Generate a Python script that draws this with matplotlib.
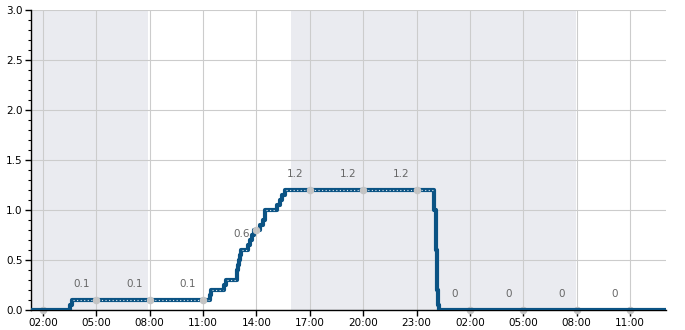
import numpy as np
import matplotlib.pyplot as plt
from matplotlib.ticker import MultipleLocator, FuncFormatter

# 時刻（day1 0:00 からの時間）と値のステップデータ
step_hours = [1.33, 3.50, 3.65, 11.38, 11.45, 12.18, 12.30, 12.88, 12.93, 12.97, 13.02,
              13.07, 13.12, 13.55, 13.65, 13.75, 13.85, 14.19, 14.38, 14.47, 15.13,
              15.31, 15.46, 15.60, 23.99, 24.07, 24.13, 24.22, 24.28, 37.0]
step_values = [0.0, 0.05, 0.1, 0.15, 0.2, 0.25, 0.3, 0.35, 0.4, 0.45, 0.5,
               0.55, 0.6, 0.65, 0.7, 0.75, 0.8, 0.85, 0.9, 1.0, 1.05,
               1.1, 1.15, 1.2, 1.0, 0.6, 0.2, 0.05, 0.0, 0.0]

# マーカー（3時間ごと）とラベル
marker_hours = [2, 5, 8, 11, 14, 17, 20, 23, 26, 29, 32, 35]
marker_values = [0, 0.1, 0.1, 0.1, 0.8, 1.2, 1.2, 1.2, 0, 0, 0, 0]
label_values = [None, 0.1, 0.1, 0.1, 0.6, 1.2, 1.2, 1.2, 0, 0, 0, 0]
label_texts = ["", "0.1", "0.1", "0.1", "0.6", "1.2", "1.2", "1.2", "0", "0", "0", "0"]

# 夜間の網掛け
night_spans = [(1.33, 7.9), (15.97, 31.95)]
x_min, x_max = 1.33, 37.0

fig = plt.figure(figsize=(6.85, 3.30), dpi=100)
ax = fig.add_axes([31 / 685, 20 / 330, 634.7 / 685, 300 / 330])

for s, e in night_spans:
    ax.axvspan(s, e, color='#eaebf0', lw=0, zorder=0)

# 線は軸でクリップ（0の所は下半分が切れる）
ax.plot(step_hours, step_values, drawstyle='steps-post', color='#0b5384', lw=3,
        zorder=3, solid_capstyle='butt')
# 水平部分だけ白い点線
for i in range(len(step_hours) - 1):
    if step_hours[i + 1] - step_hours[i] > 0.3 and step_values[i] > 0:
        ax.hlines(step_values[i], step_hours[i] + 0.05, step_hours[i + 1] - 0.05,
                  color='#dde8f0', lw=0.8, linestyles=(0, (1, 2.2)), zorder=4)

for h, v in zip(marker_hours, marker_values):
    ax.scatter([h], [v], s=30, color='#c4c4c4', zorder=5 if v > 0 else 2, clip_on=False,
               linewidths=0)
for h, v, t in zip(marker_hours, label_values, label_texts):
    if v is None:
        continue
    ax.annotate(t, (h, v), xytext=(-15, 16), textcoords='offset pixels',
                ha='center', va='center', fontsize=7.5, color='#666666')

ax.set_xlim(x_min, x_max)
ax.set_ylim(0, 3)
ax.set_xticks(marker_hours)
ax.xaxis.set_major_formatter(FuncFormatter(lambda x, p: "%02d:00" % (int(round(x)) % 24)))
ax.yaxis.set_major_locator(MultipleLocator(0.5))
ax.yaxis.set_minor_locator(MultipleLocator(0.1))
ax.yaxis.set_major_formatter(FuncFormatter(lambda y, p: "%.1f" % y))

ax.grid(True, which='major', color='#cccccc', lw=0.8)
ax.set_axisbelow(True)
for sp in ['top', 'right']:
    ax.spines[sp].set_visible(False)
ax.spines['left'].set_linewidth(1.0)
ax.spines['bottom'].set_linewidth(1.0)
ax.tick_params(axis='both', which='major', length=4, width=1, labelsize=7.5, pad=2)
ax.tick_params(axis='y', which='minor', length=2.5, width=0.8)
ax.set_facecolor('white')

fig.savefig('out.png', dpi=100)
